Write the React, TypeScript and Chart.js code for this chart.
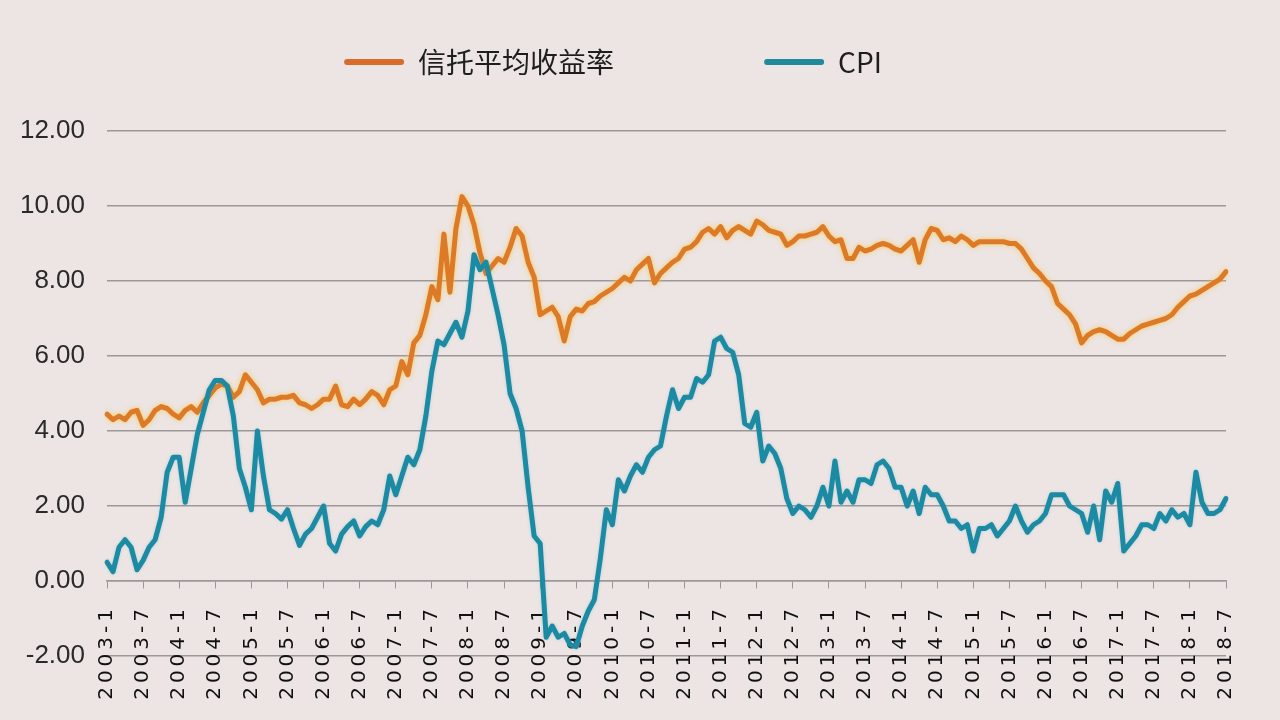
import React, { useEffect, useRef } from 'react';
import { Chart, registerables } from 'chart.js';

Chart.register(...registerables);

// ---- Data ----
const years = [2003, 2004, 2005, 2006, 2007, 2008, 2009, 2010, 2011, 2012, 2013, 2014, 2015, 2016, 2017, 2018];
const lastMonthOf2018 = 7;
const categories: string[] = [];
for (const y of years) {
  for (let m = 1; m <= 12; m++) {
    if (y === 2018 && m > lastMonthOf2018) break;
    categories.push(`${y}-${m}`);
  }
}

const seriesNames = ['信托平均收益率', 'CPI'];

// 信托平均收益率 (monthly, 2003-1 .. 2018-7)
const trustYield = [
  4.45, 4.3, 4.4, 4.3, 4.5, 4.55, 4.15, 4.3, 4.55, 4.65, 4.6, 4.45,
  4.35, 4.55, 4.65, 4.5, 4.75, 4.95, 5.15, 5.25, 5.2, 4.9, 5.05, 5.5,
  5.3, 5.1, 4.75, 4.85, 4.85, 4.9, 4.9, 4.95, 4.75, 4.7, 4.6, 4.7,
  4.85, 4.85, 5.2, 4.7, 4.65, 4.85, 4.7, 4.85, 5.05, 4.95, 4.7, 5.1,
  5.2, 5.85, 5.5, 6.35, 6.55, 7.1, 7.85, 7.5, 9.25, 7.7, 9.4, 10.25,
  10.0, 9.5, 8.75, 8.2, 8.4, 8.6, 8.5, 8.9, 9.4, 9.2, 8.5, 8.1,
  7.1, 7.2, 7.3, 7.05, 6.4, 7.05, 7.25, 7.2, 7.4, 7.45, 7.6, 7.7,
  7.8, 7.95, 8.1, 8.0, 8.3, 8.45, 8.6, 7.95, 8.2, 8.35, 8.5, 8.6,
  8.85, 8.9, 9.05, 9.3, 9.4, 9.25, 9.45, 9.15, 9.35, 9.45, 9.35, 9.25,
  9.6, 9.5, 9.35, 9.3, 9.25, 8.95, 9.05, 9.2, 9.2, 9.25, 9.3, 9.45,
  9.2, 9.05, 9.1, 8.6, 8.6, 8.9, 8.8, 8.85, 8.95, 9.0, 8.95, 8.85,
  8.8, 8.95, 9.1, 8.5, 9.1, 9.4, 9.35, 9.1, 9.15, 9.05, 9.2, 9.1,
  8.95, 9.05, 9.05, 9.05, 9.05, 9.05, 9.0, 9.0, 8.85, 8.6, 8.35, 8.2,
  8.0, 7.85, 7.4, 7.25, 7.1, 6.85, 6.35, 6.55, 6.65, 6.7, 6.65, 6.55,
  6.45, 6.45, 6.6, 6.7, 6.8, 6.85, 6.9, 6.95, 7.0, 7.1, 7.3, 7.45,
  7.6, 7.65, 7.75, 7.85, 7.95, 8.05, 8.25,
];

// CPI (monthly, 2003-1 .. 2018-7)
const cpi = [
  0.5, 0.25, 0.9, 1.1, 0.9, 0.3, 0.55, 0.9, 1.1, 1.7, 2.9, 3.3,
  3.3, 2.1, 3.0, 3.9, 4.5, 5.1, 5.35, 5.35, 5.2, 4.4, 3.0, 2.5,
  1.9, 4.0, 2.8, 1.9, 1.8, 1.65, 1.9, 1.4, 0.95, 1.25, 1.4, 1.7,
  2.0, 1.0, 0.8, 1.25, 1.45, 1.6, 1.2, 1.45, 1.6, 1.5, 1.9, 2.8,
  2.3, 2.8, 3.3, 3.1, 3.5, 4.4, 5.6, 6.4, 6.3, 6.6, 6.9, 6.5,
  7.2, 8.7, 8.3, 8.5, 7.8, 7.1, 6.3, 5.0, 4.6, 4.0, 2.5, 1.2,
  1.0, -1.5, -1.2, -1.5, -1.4, -1.7, -1.75, -1.2, -0.8, -0.5, 0.6, 1.9,
  1.5, 2.7, 2.4, 2.8, 3.1, 2.9, 3.3, 3.5, 3.6, 4.4, 5.1, 4.6,
  4.9, 4.9, 5.4, 5.3, 5.5, 6.4, 6.5, 6.2, 6.1, 5.5, 4.2, 4.1,
  4.5, 3.2, 3.6, 3.4, 3.0, 2.2, 1.8, 2.0, 1.9, 1.7, 2.0, 2.5,
  2.0, 3.2, 2.1, 2.4, 2.1, 2.7, 2.7, 2.6, 3.1, 3.2, 3.0, 2.5,
  2.5, 2.0, 2.4, 1.8, 2.5, 2.3, 2.3, 2.0, 1.6, 1.6, 1.4, 1.5,
  0.8, 1.4, 1.4, 1.5, 1.2, 1.4, 1.6, 2.0, 1.6, 1.3, 1.5, 1.6,
  1.8, 2.3, 2.3, 2.3, 2.0, 1.9, 1.8, 1.3, 2.0, 1.1, 2.4, 2.1,
  2.6, 0.8, 1.0, 1.2, 1.5, 1.5, 1.4, 1.8, 1.6, 1.9, 1.7, 1.8,
  1.5, 2.9, 2.1, 1.8, 1.8, 1.9, 2.2,
];

const yMin = -2;
const yMax = 12;
const yStep = 2;
const labelEvery = 6;

// ---- Styles ----
const bgColor = '#ece5e4';
const gridColor = '#9d9898';
const orange = '#dd7a27';
const teal = '#1b8aa2';
const legendColors = ['#d96c2a', '#1f8a9a'];

const glowPlugin = {
  id: 'glow',
  beforeDatasetDraw(chart: any, args: any) {
    const c = chart.ctx;
    c.save();
    if (args.index === 0) {
      c.shadowColor = 'rgba(248,196,70,0.85)';
      c.shadowBlur = 5;
    } else {
      c.shadowColor = 'rgba(70,170,190,0.35)';
      c.shadowBlur = 3;
    }
  },
  afterDatasetDraw(chart: any) {
    chart.ctx.restore();
  },
};

const layoutTweaks = {
  id: 'layoutTweaks',
  beforeLayout(chart: any) {
    const lg = chart.legend;
    if (lg && !lg.__patched) {
      const f = lg.fit.bind(lg);
      lg.fit = function () {
        f();
        this.height += 45;
      };
      lg.__patched = true;
    }
  },
  beforeDraw(chart: any) {
    const s = chart.scales.x;
    if (s && !s.__patched) {
      const orig = s.drawLabels.bind(s);
      s.drawLabels = (area: any) => {
        const c: any = chart.ctx;
        c.save();
        c.letterSpacing = '4px';
        orig(area);
        c.restore();
      };
      s.__patched = true;
    }
  },
};

export default function App() {
  const canvasRef = useRef<HTMLCanvasElement | null>(null);

  useEffect(() => {
    document.body.style.margin = '0';
    const canvas = canvasRef.current;
    if (!canvas) return;
    const chart = new Chart(canvas, {
      type: 'line',
      data: {
        labels: categories,
        datasets: [
          {
            label: seriesNames[0],
            data: trustYield,
            borderColor: orange,
            backgroundColor: orange,
            borderWidth: 5,
            pointRadius: 0,
            tension: 0,
            order: 2,
            borderJoinStyle: 'round',
            borderCapStyle: 'round',
          },
          {
            label: seriesNames[1],
            data: cpi,
            borderColor: teal,
            backgroundColor: teal,
            borderWidth: 5,
            pointRadius: 0,
            tension: 0,
            order: 1,
            borderJoinStyle: 'round',
            borderCapStyle: 'round',
          },
        ],
      },
      options: {
        animation: false,
        responsive: true,
        maintainAspectRatio: false,
        layout: { padding: { top: 38, right: 54, left: 0, bottom: 64 } },
        plugins: {
          tooltip: { enabled: false },
          legend: {
            position: 'top',
            align: 'center',
            labels: {
              boxWidth: 60,
              boxHeight: 6,
              padding: 10,
              color: '#1e1e1e',
              useBorderRadius: true,
              borderRadius: 3,
              font: { family: "'Noto Sans CJK SC', 'Noto Sans', sans-serif", size: 28 },
              generateLabels: (ch: any) =>
                ch.data.datasets.map((ds: any, i: number) => ({
                  text: i === 0 ? ds.label + '\u3000'.repeat(5) : ds.label,
                  fillStyle: legendColors[i],
                  strokeStyle: legendColors[i],
                  lineWidth: 0,
                  hidden: false,
                  datasetIndex: i,
                  borderRadius: 3,
                  fontColor: '#1e1e1e',
                })),
            },
          },
        },
        scales: {
          x: {
            type: 'category',
            position: { y: 0 } as any,
            afterFit: (s: any) => {
              s.height = 64;
            },
            grid: {
              display: true,
              drawOnChartArea: false,
              drawTicks: true,
              tickLength: 7,
              lineWidth: 1,
              color: (c: any) => (c.index % labelEvery === 0 ? gridColor : 'rgba(0,0,0,0)'),
            },
            border: { display: true, color: gridColor, width: 1.5 },
            ticks: {
              autoSkip: false,
              maxRotation: 90,
              minRotation: 90,
              padding: 17,
              color: '#111',
              font: { family: "'DejaVu Sans', sans-serif", size: 20 },
              callback: (_v: any, i: number) => (i % labelEvery === 0 ? categories[i] : ''),
            },
          },
          y: {
            min: yMin,
            max: yMax,
            afterFit: (s: any) => {
              s.width = 107;
            },
            grid: { color: gridColor, lineWidth: 1.5, drawTicks: false },
            border: { display: false },
            ticks: {
              stepSize: yStep,
              padding: 22,
              color: '#2a2a2a',
              font: { family: "'Liberation Sans', sans-serif", size: 26 },
              callback: (v: any) => Number(v).toFixed(2),
            },
          },
        },
      },
      plugins: [glowPlugin, layoutTweaks],
    } as any);
    return () => {
      chart.destroy();
    };
  }, []);

  return (
    <div
      style={{
        position: 'fixed',
        left: 0,
        top: 0,
        width: 1280,
        height: 720,
        background: bgColor,
      }}
    >
      <canvas ref={canvasRef} />
    </div>
  );
}
